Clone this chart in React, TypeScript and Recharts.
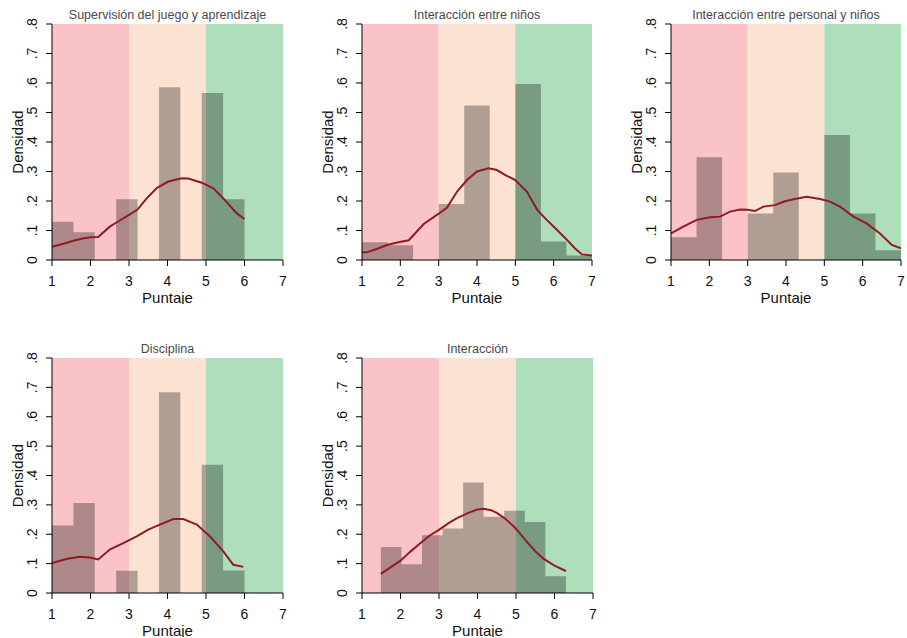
import React from 'react';
import { ComposedChart, XAxis, YAxis, Area, Line } from 'recharts';

// ---------- axes ----------
const xTicks = [1, 2, 3, 4, 5, 6, 7];
const yTicks = [0, 0.1, 0.2, 0.3, 0.4, 0.5, 0.6, 0.7, 0.8];
const yTickLabels = ['0', '.1', '.2', '.3', '.4', '.5', '.6', '.7', '.8'];
const xLabel = 'Puntaje';
const yLabel = 'Densidad';

// ---------- background bands (score ranges) ----------
const bandEdges = [1, 3, 5, 7];
const bandTop = 0.8;

// ---------- panel titles ----------
const titles = [
  'Supervisión del juego y aprendizaje',
  'Interacción entre niños',
  'Interacción entre personal y niños',
  'Disciplina',
  'Interacción',
];

// ---------- histogram bin edges ----------
const edgesA = [1, 1.556, 2.111, 2.667, 3.222, 3.778, 4.333, 4.889, 5.444, 6];
const edgesB = [1, 1.667, 2.333, 3, 3.667, 4.333, 5, 5.667, 6.333, 7];
const edgesC = [1.49, 2.024, 2.558, 3.092, 3.626, 4.16, 4.694, 5.228, 5.762, 6.296];

// ---------- histogram densities ----------
const hist1 = [0.13, 0.094, 0, 0.206, 0, 0.586, 0, 0.566, 0.206];
const hist2 = [0.06, 0.05, 0, 0.19, 0.524, 0, 0.597, 0.063, 0.015];
const hist3 = [0.077, 0.348, 0, 0.158, 0.297, 0, 0.424, 0.158, 0.033];
const hist4 = [0.23, 0.306, 0, 0.076, 0, 0.683, 0, 0.437, 0.077];
const hist5 = [0.157, 0.098, 0.197, 0.22, 0.376, 0.26, 0.28, 0.242, 0.057];

// ---------- kernel density curves ----------
const kx1 = [1.0, 1.3, 1.55, 1.8, 2.0, 2.2, 2.5, 2.75, 3.0, 3.22, 3.46, 3.72, 4.02, 4.37, 4.54, 4.89, 5.19, 5.45, 5.8, 6.0];
const ky1 = [0.045, 0.055, 0.065, 0.073, 0.077, 0.078, 0.113, 0.133, 0.153, 0.171, 0.209, 0.244, 0.266, 0.277, 0.276, 0.262, 0.243, 0.209, 0.158, 0.139];

const kx2 = [1.0, 1.13, 1.4, 1.65, 1.95, 2.22, 2.61, 3.0, 3.22, 3.48, 3.74, 4.0, 4.3, 4.52, 4.74, 5.0, 5.3, 5.57, 5.78, 6.09, 6.35, 6.55, 6.74, 7.0];
const ky2 = [0.026, 0.026, 0.038, 0.051, 0.06, 0.067, 0.122, 0.157, 0.178, 0.232, 0.271, 0.3, 0.311, 0.305, 0.288, 0.271, 0.232, 0.17, 0.141, 0.102, 0.068, 0.04, 0.019, 0.015];

const kx3 = [1.0, 1.32, 1.67, 2.02, 2.28, 2.54, 2.8, 3.0, 3.19, 3.41, 3.71, 3.97, 4.23, 4.54, 4.89, 5.15, 5.41, 5.76, 6.1, 6.45, 6.76, 7.0];
const ky3 = [0.09, 0.113, 0.136, 0.145, 0.147, 0.164, 0.171, 0.17, 0.166, 0.181, 0.186, 0.199, 0.207, 0.214, 0.207, 0.198, 0.181, 0.147, 0.124, 0.09, 0.051, 0.04];

const kx4 = [1.0, 1.37, 1.72, 1.98, 2.2, 2.5, 2.85, 3.2, 3.5, 3.8, 4.15, 4.41, 4.76, 5.1, 5.45, 5.71, 5.97];
const ky4 = [0.102, 0.116, 0.123, 0.121, 0.114, 0.148, 0.17, 0.193, 0.216, 0.233, 0.252, 0.252, 0.233, 0.193, 0.142, 0.096, 0.089];

const kx5 = [1.49, 1.75, 2.0, 2.25, 2.52, 2.75, 3.0, 3.25, 3.47, 3.75, 3.99, 4.16, 4.35, 4.5, 4.7, 4.94, 5.1, 5.29, 5.5, 5.72, 6.0, 6.296];
const ky5 = [0.065, 0.088, 0.11, 0.14, 0.17, 0.195, 0.215, 0.238, 0.255, 0.272, 0.284, 0.287, 0.282, 0.273, 0.255, 0.227, 0.203, 0.173, 0.142, 0.116, 0.093, 0.075];

// ---------- styles ----------
const bandColors = ['#FAC3C8', '#FCE3D1', '#AEDEBA'];
const histColor = '#000000';
const histOpacity = 0.3;
const lineColor = '#8E1B25';
const FONT = '"Liberation Sans", Arial, sans-serif';

const layout = [
  { l: 52, t: 24, w: 231, h: 236 },
  { l: 362, t: 24, w: 230, h: 236 },
  { l: 671, t: 24, w: 230, h: 236 },
  { l: 52, t: 358, w: 231, h: 235 },
  { l: 362, t: 358, w: 231, h: 235 },
];

const panelEdges = [edgesA, edgesB, edgesB, edgesA, edgesC];
const panelHists = [hist1, hist2, hist3, hist4, hist5];
const panelKx = [kx1, kx2, kx3, kx4, kx5];
const panelKy = [ky1, ky2, ky3, ky4, ky5];

const fmtY = (v: number) => {
  const i = yTicks.findIndex((t) => Math.abs(t - v) < 1e-6);
  return i >= 0 ? yTickLabels[i] : String(v);
};

const YTick = (props: any) => {
  const { x, y, payload } = props;
  const bx = x - 7;
  return (
    <text x={bx} y={y} transform={`rotate(-90 ${bx} ${y})`} textAnchor="middle" fontSize={14} fill="#111">
      {fmtY(payload.value)}
    </text>
  );
};

const XLabel = (props: any) => {
  const vb = props.viewBox || {};
  const cx = vb.x + vb.width / 2;
  const cy = vb.y + 37;
  return (
    <text x={cx} y={cy} textAnchor="middle" dominantBaseline="central" fontSize={15} fill="#111">
      {xLabel}
    </text>
  );
};

const YLabel = (props: any) => {
  const vb = props.viewBox || {};
  const cx = vb.x + vb.width - 35;
  const cy = vb.y + vb.height / 2;
  return (
    <text x={cx} y={cy} transform={`rotate(-90 ${cx} ${cy})`} textAnchor="middle" dominantBaseline="central" fontSize={15} fill="#111">
      {yLabel}
    </text>
  );
};

const YW = 52;
const MT = 10;
const MR = 6;
const XH = 44;

function Panel({ idx }: { idx: number }) {
  const L = layout[idx];
  const edges = panelEdges[idx];
  const heights = panelHists[idx];
  const histData = edges.map((e, i) => ({ x: e, y: i < heights.length ? heights[i] : 0 }));
  const curveData = panelKx[idx].map((x, i) => ({ x, y: panelKy[idx][i] }));
  const bands = bandColors.map((c, i) => ({
    color: c,
    data: [
      { x: bandEdges[i], y: bandTop },
      { x: bandEdges[i + 1], y: bandTop },
    ],
  }));
  const width = YW + L.w + MR;
  const height = MT + L.h + XH;
  return (
    <>
      <div
        style={{
          position: 'absolute',
          left: L.l - 20,
          top: L.t - 16,
          width: L.w + 40,
          textAlign: 'center',
          fontSize: 12.5,
          color: '#4a4a4a',
          fontFamily: FONT,
          whiteSpace: 'nowrap',
          lineHeight: '14px',
        }}
      >
        {titles[idx]}
      </div>
      <div style={{ position: 'absolute', left: L.l - YW, top: L.t - MT }}>
        <ComposedChart width={width} height={height} margin={{ top: MT, right: MR, left: 0, bottom: 0 }}>
          <XAxis
            type="number"
            dataKey="x"
            domain={[1, 7]}
            ticks={xTicks}
            allowDataOverflow
            height={XH}
            tickSize={6}
            tickMargin={10}
            stroke="#000"
            tick={{ fontSize: 14, fill: '#111' }}
            label={XLabel}
          />
          <YAxis
            type="number"
            dataKey="y"
            domain={[0, 0.8]}
            ticks={yTicks}
            allowDataOverflow
            width={YW}
            tickSize={6}
            tickMargin={2}
            stroke="#000"
            tick={YTick}
            label={YLabel}
          />
          {bands.map((b, i) => (
            <Area
              key={'band' + i}
              data={b.data}
              dataKey="y"
              type="linear"
              fill={b.color}
              fillOpacity={1}
              stroke="none"
              isAnimationActive={false}
              dot={false}
              activeDot={false}
            />
          ))}
          <Area
            data={histData}
            dataKey="y"
            type="stepAfter"
            fill={histColor}
            fillOpacity={histOpacity}
            stroke="none"
            isAnimationActive={false}
            dot={false}
            activeDot={false}
          />
          <Line
            data={curveData}
            dataKey="y"
            type="linear"
            stroke={lineColor}
            strokeWidth={2}
            dot={false}
            activeDot={false}
            isAnimationActive={false}
          />
        </ComposedChart>
      </div>
    </>
  );
}

export default function App() {
  return (
    <div
      style={{
        position: 'absolute',
        left: 0,
        top: 0,
        width: 907,
        height: 638,
        background: '#fff',
        fontFamily: FONT,
        overflow: 'hidden',
      }}
    >
      {titles.map((_, i) => (
        <Panel key={i} idx={i} />
      ))}
    </div>
  );
}
